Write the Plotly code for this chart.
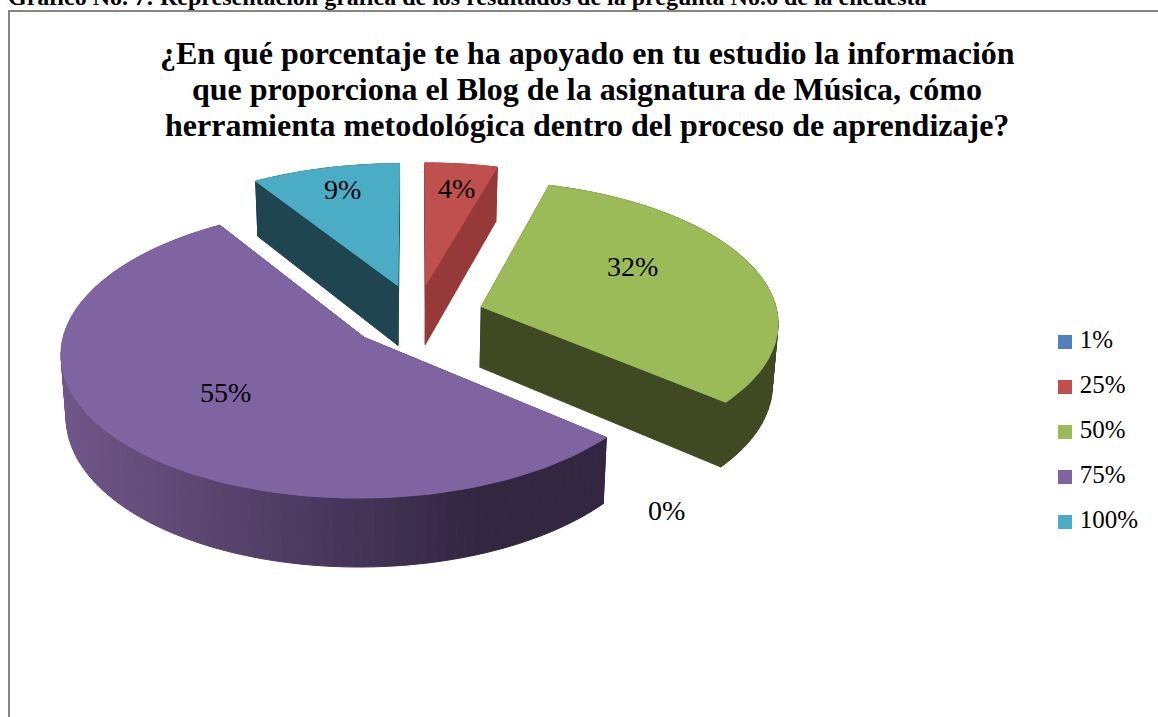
import math
import plotly.graph_objects as go

categories = ["1%", "25%", "50%", "75%", "100%"]
values = [0.0, 4.4, 31.8, 54.8, 9.0]
top_colors = ["#4f81bd", "#c0504d", "#9bbb59", "#8064a2", "#4bacc6"]
wall_colors = ["#2a4566", "#953a39", "#3f4a22", "#33273f", "#1f4550"]

title_lines = [
    "¿En qué porcentaje te ha apoyado en tu estudio la información",
    "que proporciona el Blog de la asignatura de Música, cómo",
    "herramienta metodológica dentro del proceso de aprendizaje?",
]
caption = "Gráfico No. 7: Representación gráfica de los resultados de la pregunta No.6 de la encuesta"

# pie projection, in pixels of the page
CX, CY = 416.5, 316
RX, RY = 296.5, 140
PERSP = 0.10
DEPTH = 61
EXPLODE = 0.23
SERIF = "Liberation Serif"


def project(u, v, low=False):
    s = 1 / (1 - PERSP * v)
    x = CX + RX * u * s
    y = CY + RY * v * s
    if low:
        x = 400 + (x - 400) * 0.985
        y = y + DEPTH * s
    return x, y


def rim(a, ux, vy):
    return ux + math.sin(a), vy - math.cos(a)


def purple_shade(x):
    t = min(max((x - 65) / 420, 0), 1)
    left, right = (112, 86, 137), (50, 38, 65)
    return "rgb(%d,%d,%d)" % tuple(l + (r - l) * t for l, r in zip(left, right))


def poly_trace(pts, color):
    xs, ys = zip(*pts)
    return go.Scatter(
        x=list(xs) + [xs[0]],
        y=list(ys) + [ys[0]],
        mode="lines",
        fill="toself",
        fillcolor=color,
        line=dict(width=1, color=color),
        hoverinfo="skip",
        showlegend=False,
    )


fig = go.Figure()

# back slices first, so the front ones sit over them
order = [4, 1, 2, 3]
cum = [sum(values[:i]) for i in range(len(values))]
for i in order:
    start = cum[i] / 100 * 2 * math.pi
    end = (cum[i] + values[i]) / 100 * 2 * math.pi
    mid = (start + end) / 2
    ox = EXPLODE * math.sin(mid)
    oy = -EXPLODE * math.cos(mid)
    steps = max(int(values[i] * 2), 6)
    angles = [start + (end - start) * k / steps for k in range(steps + 1)]
    disk = [rim(a, ox, oy) for a in angles]

    # radial walls
    for edge in (disk[0], disk[-1]):
        fig.add_trace(poly_trace(
            [project(ox, oy), project(*edge), project(*edge, low=True), project(ox, oy, low=True)],
            wall_colors[i],
        ))
    # outer wall, one strip per step
    for p, q in zip(disk[:-1], disk[1:]):
        a, b = project(*p), project(*q)
        color = purple_shade((a[0] + b[0]) / 2) if categories[i] == "75%" else wall_colors[i]
        fig.add_trace(poly_trace([a, b, project(*q, low=True), project(*p, low=True)], color))
    # top face
    top = [project(ox, oy)] + [project(*p) for p in disk]
    fig.add_trace(poly_trace(top, top_colors[i]))

# legend column, placed by hand like the original
legend_y = [342, 387, 432, 477, 522]
for name, color, y in zip(categories, top_colors, legend_y):
    fig.add_trace(go.Scatter(
        x=[1065], y=[y], mode="markers+text", text=["\u2009" + name], textposition="middle right",
        marker=dict(symbol="square", size=14, color=color),
        textfont=dict(family=SERIF, size=25, color="black"),
        hoverinfo="skip", showlegend=False,
    ))

labels = ["%d%%" % round(v) for v in values]
label_xy = [(666, 510), (456, 188), (632, 266), (225, 392), (342, 189)]
annotations = [
    dict(x=x, y=y, text=t, showarrow=False, xref="x", yref="y",
         font=dict(family=SERIF, size=28, color="black"))
    for t, (x, y) in zip(labels, label_xy)
]
annotations.append(dict(
    x=6 / 1158, y=1 + 3 / 717, text="<b>%s</b>" % caption, showarrow=False, xref="paper", yref="paper",
    xanchor="left", yanchor="middle", font=dict(family=SERIF, size=24, color="black"),
))
for line, y in zip(title_lines, (53, 89, 125)):
    annotations.append(dict(
        x=587, y=y, text="<b>%s</b>" % line, showarrow=False, xref="x", yref="y",
        font=dict(family=SERIF, size=32, color="black"),
    ))

fig.update_layout(
    width=1158,
    height=717,
    margin=dict(l=0, r=0, t=0, b=0),
    paper_bgcolor="white",
    plot_bgcolor="white",
    showlegend=False,
    xaxis=dict(range=[0, 1158], visible=False, fixedrange=True),
    yaxis=dict(range=[717, 0], visible=False, fixedrange=True),
    annotations=annotations,
    shapes=[dict(type="rect", xref="x", yref="y", x0=9, y0=11, x1=1175, y1=740,
                 line=dict(color="#868686", width=2), layer="below")],
)

# the browser's default body margin would push the chart 8px in
fig.write_html(
    "out.html",
    config=dict(displayModeBar=False),
    post_script="document.body.style.margin='0';",
)
